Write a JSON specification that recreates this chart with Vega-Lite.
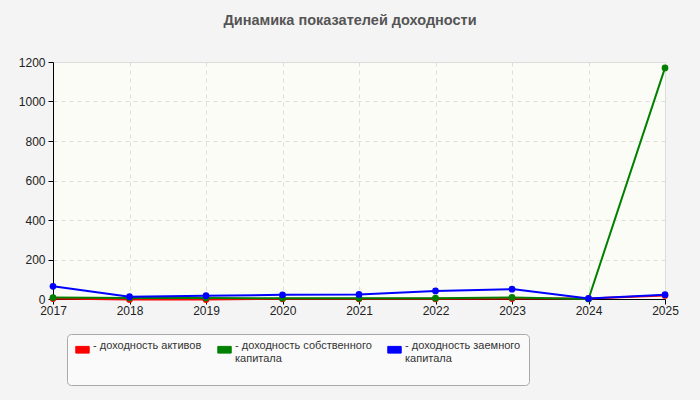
{
  "$schema": "https://vega.github.io/schema/vega-lite/v6.json",
  "width": 612,
  "height": 237,
  "autosize": {"type": "none"},
  "padding": {"left": 53, "top": 62, "right": 35, "bottom": 101},
  "background": "#f4f4f4",
  "title": {
    "text": "Динамика показателей доходности",
    "font": "Liberation Sans",
    "fontSize": 14.5,
    "fontWeight": "bold",
    "color": "#555555",
    "anchor": "middle",
    "frame": "group",
    "dx": -9,
    "offset": 28
  },
  "config": {
    "view": {"fill": "#fbfcf6", "stroke": "#dddddd", "strokeWidth": 1},
    "axis": {
      "labelFont": "Liberation Sans",
      "labelFontSize": 12,
      "labelColor": "#222222",
      "domainColor": "#000000",
      "tickColor": "#000000",
      "tickSize": 5,
      "gridColor": "#dddddd",
      "gridDash": [4, 4],
      "title": null
    }
  },
  "data": {
    "values": [
      {"year": 2017, "series": "- доходность активов", "value": 2},
      {"year": 2018, "series": "- доходность активов", "value": -3},
      {"year": 2019, "series": "- доходность активов", "value": -3},
      {"year": 2020, "series": "- доходность активов", "value": 1},
      {"year": 2021, "series": "- доходность активов", "value": 1},
      {"year": 2022, "series": "- доходность активов", "value": 1},
      {"year": 2023, "series": "- доходность активов", "value": 2},
      {"year": 2024, "series": "- доходность активов", "value": 2},
      {"year": 2025, "series": "- доходность активов", "value": 18},
      {"year": 2017, "series": "- доходность собственного капитала", "value": 7},
      {"year": 2018, "series": "- доходность собственного капитала", "value": 5},
      {"year": 2019, "series": "- доходность собственного капитала", "value": 5},
      {"year": 2020, "series": "- доходность собственного капитала", "value": 4},
      {"year": 2021, "series": "- доходность собственного капитала", "value": 4},
      {"year": 2022, "series": "- доходность собственного капитала", "value": 4},
      {"year": 2023, "series": "- доходность собственного капитала", "value": 8},
      {"year": 2024, "series": "- доходность собственного капитала", "value": 0},
      {"year": 2025, "series": "- доходность собственного капитала", "value": 1170},
      {"year": 2017, "series": "- доходность заемного капитала", "value": 64},
      {"year": 2018, "series": "- доходность заемного капитала", "value": 12},
      {"year": 2019, "series": "- доходность заемного капитала", "value": 17},
      {"year": 2020, "series": "- доходность заемного капитала", "value": 21},
      {"year": 2021, "series": "- доходность заемного капитала", "value": 23},
      {"year": 2022, "series": "- доходность заемного капитала", "value": 41},
      {"year": 2023, "series": "- доходность заемного капитала", "value": 50},
      {"year": 2024, "series": "- доходность заемного капитала", "value": 3},
      {"year": 2025, "series": "- доходность заемного капитала", "value": 22}
    ]
  },
  "encoding": {
    "x": {
      "field": "year",
      "type": "quantitative",
      "scale": {"domain": [2017, 2025], "nice": false, "zero": false},
      "axis": {"values": [2017, 2018, 2019, 2020, 2021, 2022, 2023, 2024, 2025], "format": "d", "labelPadding": 1, "labelFlush": false}
    },
    "y": {
      "field": "value",
      "type": "quantitative",
      "scale": {"domain": [0, 1200], "nice": false},
      "axis": {"values": [0, 200, 400, 600, 800, 1000, 1200], "format": "d", "labelPadding": 3}
    },
    "color": {
      "field": "series",
      "type": "nominal",
      "sort": ["- доходность активов", "- доходность собственного капитала", "- доходность заемного капитала"],
      "scale": {
        "domain": ["- доходность активов", "- доходность собственного капитала", "- доходность заемного капитала"],
        "range": ["#ff0000", "#008000", "#0000ff"]
      },
      "legend": {
        "title": null,
        "orient": "none",
        "legendX": 14,
        "legendY": 272,
        "direction": "horizontal",
        "columns": 3,
        "columnPadding": 13,
        "padding": 8,
        "fillColor": "#fafafa",
        "strokeColor": "#aaaaaa",
        "cornerRadius": 4,
        "symbolType": "M-1,-0.5H1V0.5H-1Z",
        "symbolSize": 180,
        "symbolStrokeWidth": 1,
        "symbolStrokeColor": "#555555",
        "symbolOffset": 0,
        "labelFont": "Liberation Sans",
        "labelFontSize": 11,
        "labelLineHeight": 13,
        "labelColor": "#333333",
        "labelBaseline": "top",
        "labelOffset": 3,
        "labelLimit": 300,
        "labelExpr": "datum.label == '- доходность активов' ? ['- доходность активов', '\u00a0', '\u00a0'] : datum.label == '- доходность собственного капитала' ? ['- доходность собственного', '\u00a0\u00a0капитала', '\u00a0'] : ['- доходность заемного', '\u00a0\u00a0капитала', '\u00a0']",
        "encode": {
          "labels": {"update": {"dy": {"value": -10}}},
          "symbols": {"update": {"dy": {"value": -10}}}
        }
      }
    },
    "order": {"field": "year", "type": "quantitative"}
  },
  "layer": [
    {"mark": {"type": "line", "strokeWidth": 2, "clip": false}},
    {"mark": {"type": "point", "filled": true, "opacity": 1, "size": 45, "clip": false}}
  ]
}
